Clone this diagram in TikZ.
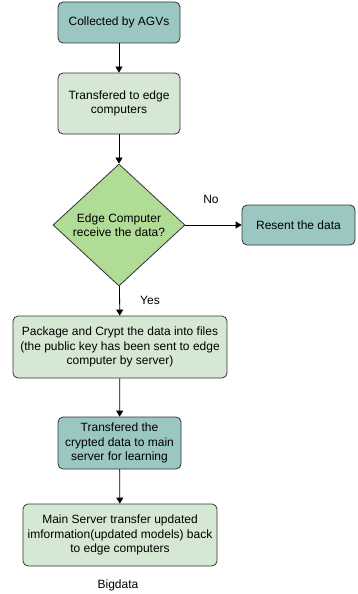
\documentclass[tikz,border=0pt]{standalone}
\usepackage{fontspec}
\setmainfont{Liberation Sans}
\usetikzlibrary{shapes.geometric,arrows.meta}
\definecolor{tealfill}{HTML}{9AC7C2}
\definecolor{lightfill}{HTML}{D5E8D4}
\definecolor{decfill}{HTML}{B0DC96}
\definecolor{edge}{HTML}{333333}
\begin{document}
\begin{tikzpicture}[x=1pt,y=-1pt,
  font=\fontsize{12}{14.5}\selectfont,
  boxbase/.style={draw=edge, line width=0.8pt, rounded corners=5pt, align=center, inner sep=0pt},
  tealbox/.style={boxbase, fill=tealfill},
  lightbox/.style={boxbase, fill=lightfill},
  decision/.style={diamond, draw=edge, line width=0.8pt, fill=decfill, align=center, inner sep=0pt, minimum width=132pt, minimum height=122pt, aspect=1.08},
  flow/.style={draw=black, line width=0.8pt, -{Triangle[length=6pt,width=7pt]}}]
\useasboundingbox (0,0) rectangle (357,594);

\node[tealbox, minimum width=122pt, minimum height=41pt] (agv) at (119,22.5) {Collected by AGVs};
\node[lightbox, minimum width=122pt, minimum height=61pt] (edgec) at (119,103.5) {Transfered to edge\\computers};
\node[decision] (recv) at (119,225) {Edge Computer\\receive the data?};
\node[tealbox, minimum width=113pt, minimum height=40pt] (resent) at (298.5,225) {Resent the data};
\node[lightbox, minimum width=214pt, minimum height=62pt] (pack) at (120,347) {Package and Crypt the data into files\\(the public key has been sent to edge\\computer by server)};
\node[tealbox, minimum width=123pt, minimum height=52pt] (send) at (119.5,443) {Transfered the\\crypted data to main\\server for learning};
\node[lightbox, minimum width=194pt, minimum height=62pt] (main) at (120,535) {Main Server transfer updated\\imformation(updated models) back\\to edge computers};
\node (big) at (118,585) {Bigdata};

\node (nolbl) at (211,199) {No};
\node (yeslbl) at (150,300) {Yes};

\draw[flow] (agv) -- (edgec);
\draw[flow] (edgec) -- (recv);
\draw[flow] (recv) -- (resent);
\draw[flow] (recv) -- (pack);
\draw[flow] (pack) -- (send);
\draw[flow] (send) -- (main);
\end{tikzpicture}
\end{document}
